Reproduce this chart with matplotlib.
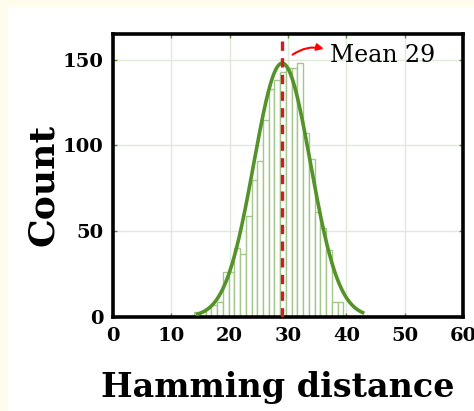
import numpy as np
import matplotlib
matplotlib.use("Agg")
import matplotlib.pyplot as plt
from matplotlib.patches import Rectangle

# Histogram data
bin_edges = np.linspace(13.9, 39.5, 27)
counts = [3, 3, 5, 7, 9, 26, 26, 40, 37, 59, 80, 91, 115,
          133, 138, 143, 145, 145, 148, 107, 92, 61, 52, 39, 9, 9]

# Normal fit and mean marker
fit_mean = 29.0
fit_sd = 4.85
fit_peak = 148.0
mean_value = 29

x_ticks = [0, 10, 20, 30, 40, 50, 60]
y_ticks = [0, 50, 100, 150]

serif = "DejaVu Serif"
green_line = "#55922a"
green_bar = "#a3c78a"
grid_col = "#dfeada"

fig = plt.figure(figsize=(4.74, 4.11), dpi=100)
fig.patch.set_facecolor("#fffcee")
fig.patches.append(Rectangle((8 / 474, 0), 1, 1 - 7 / 411, transform=fig.transFigure,
                             facecolor="white", edgecolor="none", zorder=-10))

ax = fig.add_axes([113 / 474, 94 / 411, 350 / 474, 283 / 411])

# Bars
edges = np.array(bin_edges)
ax.bar(edges[:-1], counts, width=np.diff(edges), align="edge",
       facecolor="white", edgecolor=green_bar, linewidth=1.0, zorder=2)

# Gaussian fit curve
xs = np.linspace(14.5, 42.8, 300)
ax.plot(xs, fit_peak * np.exp(-(xs - fit_mean) ** 2 / (2 * fit_sd ** 2)),
        color=green_line, linewidth=2.6, zorder=3)

# Mean line
ax.axvline(mean_value, color="#d11a22", linewidth=2.4, linestyle=(0, (2.8, 2.2)), zorder=4)

ax.annotate("", xy=(36.6, 156), xytext=(30.4, 152),
            arrowprops=dict(arrowstyle="-|>", color="red", lw=1.5,
                            mutation_scale=10, connectionstyle="arc3,rad=-0.25"),
            zorder=5)
ax.text(37.2, 148.5, f"Mean {mean_value}", fontsize=17, family=serif,
        va="baseline", ha="left", zorder=5)

ax.set_xlim(0, 60)
ax.set_ylim(0, 165)
ax.set_xticks(x_ticks)
ax.set_yticks(y_ticks)
ax.grid(True, color=grid_col, linewidth=1.0, zorder=0)
ax.set_axisbelow(True)

ax.tick_params(direction="in", length=3, width=1, color=green_line,
               top=True, right=True, pad=7)
for lab in ax.get_xticklabels() + ax.get_yticklabels():
    lab.set_family(serif)
    lab.set_fontweight("bold")
    lab.set_fontsize(14)

for sp in ax.spines.values():
    sp.set_linewidth(2.6)
    sp.set_color("black")

ax.set_xlabel("Hamming distance", fontsize=24, family=serif, fontweight="bold")
ax.set_ylabel("Count", fontsize=26, family=serif, fontweight="bold")
ax.xaxis.set_label_coords(0.471, -0.19)
ax.yaxis.set_label_coords(-0.15, 0.466)

fig.savefig("out.png", dpi=100, facecolor=fig.get_facecolor())
